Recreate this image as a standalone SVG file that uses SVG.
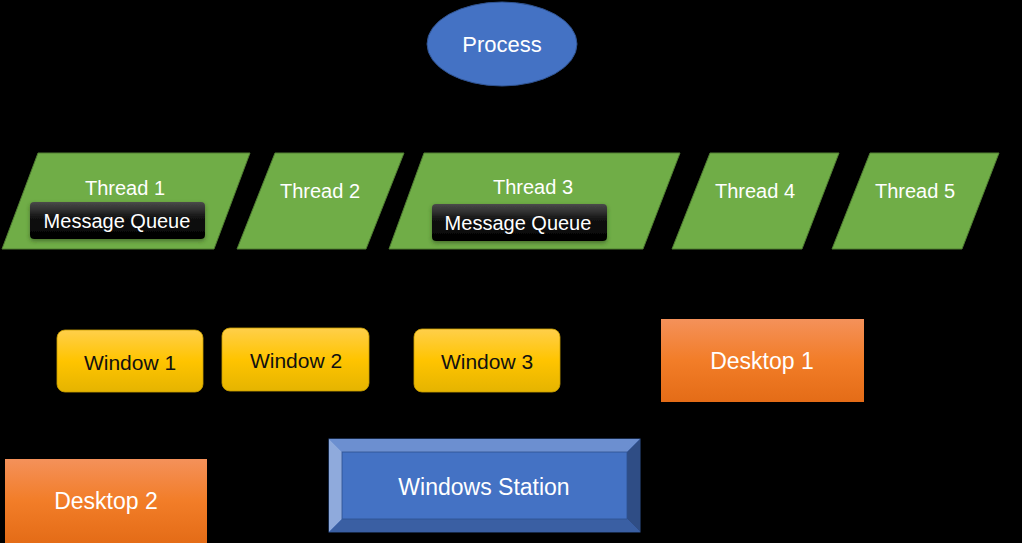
<svg xmlns="http://www.w3.org/2000/svg" width="1022" height="543" viewBox="0 0 1022 543">
<style>
.t{font-family:"Liberation Sans",Arial,sans-serif;fill:#fff;text-anchor:middle;dominant-baseline:central}
.dk{fill:#111}
.thr{fill:#70AD47;stroke:#507E32;stroke-width:1}
.mq{fill:url(#gMQ);filter:url(#sh)}
.win{fill:url(#gWin);stroke:#C9A000;stroke-width:0.8}
.desk{fill:url(#gDesk)}
.con{stroke:#000;stroke-width:1.5;fill:none}
</style>
<defs>
<linearGradient id="gMQ" x1="0" y1="0" x2="0" y2="1"><stop offset="0" stop-color="#4a4a4a"/><stop offset="0.45" stop-color="#111"/><stop offset="1" stop-color="#000"/></linearGradient>
<linearGradient id="gWin" x1="0" y1="0" x2="0" y2="1"><stop offset="0" stop-color="#FFCF4A"/><stop offset="0.5" stop-color="#FFC400"/><stop offset="1" stop-color="#E5B400"/></linearGradient>
<linearGradient id="gDesk" x1="0" y1="0" x2="0" y2="1"><stop offset="0" stop-color="#F4915A"/><stop offset="0.5" stop-color="#F27D28"/><stop offset="1" stop-color="#E46C17"/></linearGradient>
<filter id="sh" x="-10%" y="-20%" width="120%" height="150%"><feDropShadow dx="0" dy="2" stdDeviation="2" flood-color="#2d4a1a" flood-opacity="0.6"/></filter>
</defs>
<rect width="1022" height="543" fill="#000"/>
<g id="connectors">
<line class="con" x1="502" y1="86" x2="125" y2="153"/>
<line class="con" x1="502" y1="86" x2="320" y2="153"/>
<line class="con" x1="502" y1="86" x2="533" y2="153"/>
<line class="con" x1="502" y1="86" x2="755" y2="153"/>
<line class="con" x1="502" y1="86" x2="915" y2="153"/>
<line class="con" x1="329" y1="487" x2="207" y2="501"/>
<line class="con" x1="640" y1="484" x2="763" y2="402"/>
</g>
<g id="process"><ellipse cx="502" cy="44" rx="75" ry="42" fill="#4472C4" stroke="#2F528F" stroke-width="1"/><text class="t" x="502" y="44" font-size="22">Process</text></g>
<g id="thread1"><polygon class="thr" points="38,153 250,153 214,249 2,249"/><text class="t" x="125" y="188" font-size="20">Thread 1</text></g>
<g id="mq1"><rect class="mq" x="30" y="202" width="175" height="37" rx="4"/><text class="t" x="117" y="221" font-size="20">Message Queue</text></g>
<g id="thread2"><polygon class="thr" points="275,153 404,153 366,249 237,249"/><text class="t" x="320" y="191" font-size="20">Thread 2</text></g>
<g id="thread3"><polygon class="thr" points="424,153 680,153 643,249 389,249"/><text class="t" x="533" y="187" font-size="20">Thread 3</text></g>
<g id="mq2"><rect class="mq" x="432" y="204" width="175" height="37" rx="4"/><text class="t" x="518" y="223" font-size="20">Message Queue</text></g>
<g id="thread4"><polygon class="thr" points="710,153 839,153 802,249 672,249"/><text class="t" x="755" y="191" font-size="20">Thread 4</text></g>
<g id="thread5"><polygon class="thr" points="870,153 999,153 962,249 832,249"/><text class="t" x="915" y="191" font-size="20">Thread 5</text></g>
<g id="window1"><rect class="win" x="57" y="330" width="146" height="62" rx="8"/><text class="t dk" x="130" y="362" font-size="21">Window 1</text></g>
<g id="window2"><rect class="win" x="222" y="328" width="147" height="63" rx="8"/><text class="t dk" x="296" y="360" font-size="21">Window 2</text></g>
<g id="window3"><rect class="win" x="414" y="329" width="146" height="63" rx="8"/><text class="t dk" x="487" y="361" font-size="21">Window 3</text></g>
<g id="desktop1"><rect class="desk" x="661" y="319" width="203" height="83"/><text class="t" x="762" y="361" font-size="23">Desktop 1</text></g>
<g id="desktop2"><rect class="desk" x="5" y="459" width="202" height="84"/><text class="t" x="106" y="501" font-size="23">Desktop 2</text></g>
<g id="station">
<rect x="329" y="439" width="311" height="93" fill="#4472C4" stroke="#2F528F" stroke-width="1"/>
<polygon points="329,439 640,439 627,452 342,452" fill="#6C8FD0"/>
<polygon points="329,439 342,452 342,519 329,532" fill="#8FAADC"/>
<polygon points="640,439 640,532 627,519 627,452" fill="#2F4D85"/>
<polygon points="329,532 342,519 627,519 640,532" fill="#3A5FA3"/>
<rect x="342" y="452" width="285" height="67" fill="#4472C4" stroke="#2F528F" stroke-width="0.8"/>
<text class="t" x="484" y="487" font-size="23">Windows Station</text>
</g>
</svg>
